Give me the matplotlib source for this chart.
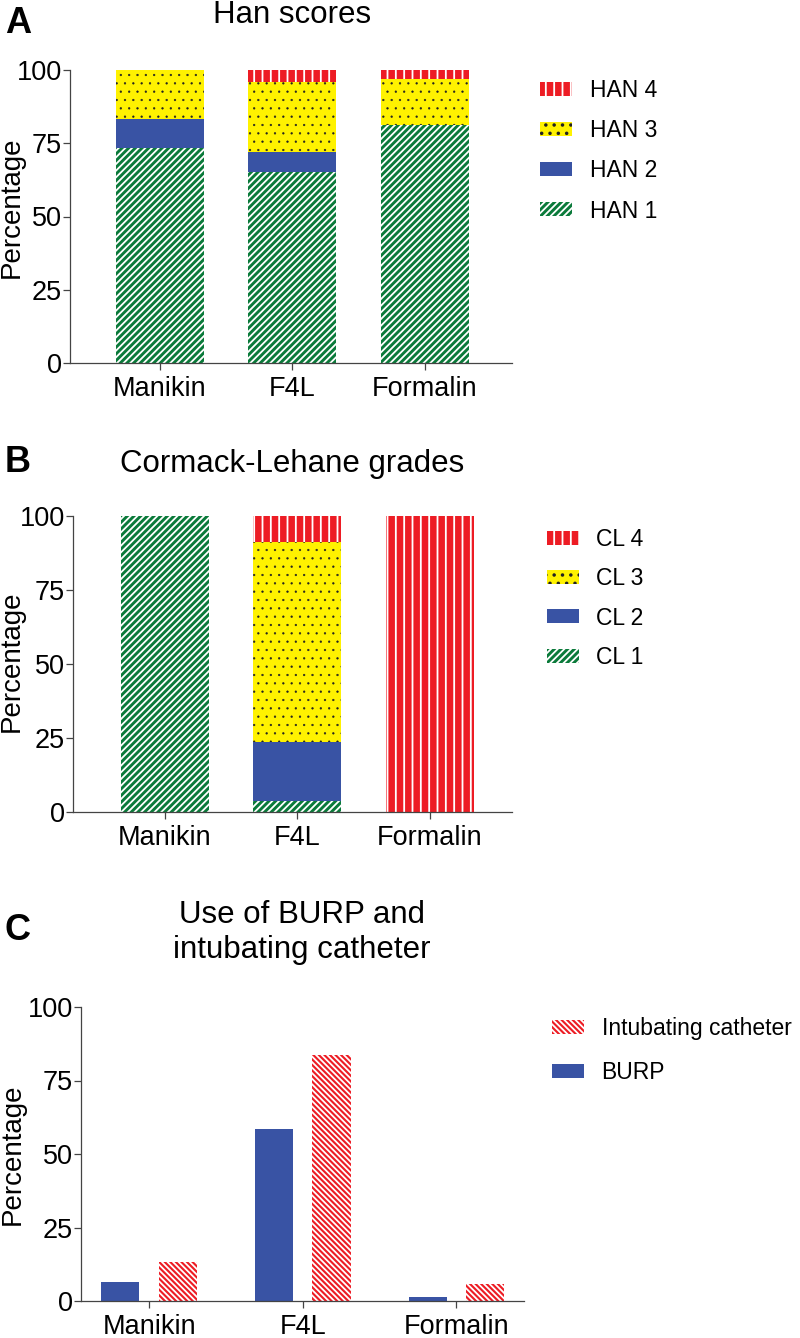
import matplotlib
matplotlib.use("Agg")
import matplotlib.pyplot as plt
import numpy as np

# data
cats = ["Manikin", "F4L", "Formalin"]

han1 = [73.3, 65.3, 81.2]
han2 = [10.0, 6.6, 0.0]
han3 = [16.7, 24.1, 15.6]
han4 = [0.0, 4.0, 3.2]

cl1 = [100.0, 3.6, 0.0]
cl2 = [0.0, 20.1, 0.0]
cl3 = [0.0, 67.4, 0.0]
cl4 = [0.0, 8.9, 100.0]

burp = [6.6, 58.5, 1.4]
catheter = [13.2, 83.8, 5.8]

green = "#0a7a3a"
blue = "#3953a4"
yellow = "#fff200"
red = "#ed1c24"

plt.rcParams["font.family"] = ["Liberation Sans", "DejaVu Sans"]
plt.rcParams["hatch.linewidth"] = 1.3

W, H = 800, 1338
fig = plt.figure(figsize=(W / 100, H / 100), dpi=100)

TICK_FS = 19.5
LEG_FS = 16.5


def px_axes(left, top, right, bottom):
    return fig.add_axes([left / W, 1 - bottom / H, (right - left) / W, (bottom - top) / H])


def fig_text(x, y, s, **kw):
    fig.text(x / W, 1 - y / H, s, **kw)


def style(ax, xlim):
    for s in ["top", "right"]:
        ax.spines[s].set_visible(False)
    for s in ["left", "bottom"]:
        ax.spines[s].set_color("#444444")
        ax.spines[s].set_linewidth(0.9)
    ax.set_ylim(0, 100)
    ax.set_yticks([0, 25, 50, 75, 100])
    ax.set_xlim(*xlim)
    ax.set_xticks(np.arange(len(cats)))
    ax.set_xticklabels(cats)
    ax.tick_params(axis="y", length=5, width=0.9, color="#444444", pad=1, labelsize=TICK_FS)
    ax.tick_params(axis="x", length=5, width=0.9, color="#444444", pad=4, labelsize=TICK_FS)


def hatch_lw(container, lw):
    for p in container:
        if hasattr(p, "set_hatch_linewidth"):
            p.set_hatch_linewidth(lw)


stack_styles = [
    dict(color=green, edgecolor="white", hatch="/////"),
    dict(color=blue, edgecolor=blue),
    dict(color=yellow, edgecolor="#222222", hatch=".."),
    dict(color=red, edgecolor="white", hatch="||"),
]


def stacked(ax, series, labels):
    x = np.arange(len(cats))
    bottom = np.zeros(len(cats))
    handles = []
    for vals, lab, st in zip(series, labels, stack_styles):
        b = ax.bar(x, vals, 0.664, bottom=bottom, linewidth=0, label=lab,
                   clip_on=False, **st)
        if st.get("hatch") == "..":
            hatch_lw(b, 0.4)
        handles.append(b)
        bottom += np.array(vals)
    return handles


def legend(ax, handles, left, top, spacing):
    ax.legend(handles=handles, loc="upper left", bbox_to_anchor=(left / W, 1 - top / H),
              bbox_transform=fig.transFigure, frameon=False, fontsize=LEG_FS,
              handlelength=1.38, handleheight=0.56, labelspacing=spacing,
              handletextpad=0.78, borderpad=0, borderaxespad=0)


# ---- A: Han scores
axA = px_axes(70, 70, 512, 363)
hA = stacked(axA, [han1, han2, han3, han4], ["HAN 1", "HAN 2", "HAN 3", "HAN 4"])
style(axA, (-0.68, 2.66))
axA.set_ylabel("Percentage", fontsize=20)
axA.yaxis.set_label_coords(-0.102, 0.53)
legend(axA, hA[::-1], 540, 79, 0.75)
fig_text(5, 33, "A", fontsize=26, fontweight="bold", va="baseline")
fig_text(292, 23, "Han scores", fontsize=22.5, ha="center", va="baseline")

# ---- B: Cormack-Lehane grades
axB = px_axes(73, 516, 512, 812)
hB = stacked(axB, [cl1, cl2, cl3, cl4], ["CL 1", "CL 2", "CL 3", "CL 4"])
style(axB, (-0.694, 2.62))
axB.set_ylabel("Percentage", fontsize=20)
axB.yaxis.set_label_coords(-0.109, 0.51)
legend(axB, hB[::-1], 547, 528, 0.71)
fig_text(5, 472, "B", fontsize=26, fontweight="bold", va="baseline")
fig_text(292, 472, "Cormack-Lehane grades", fontsize=22.5, ha="center", va="baseline")

# ---- C: BURP and intubating catheter
axC = px_axes(81, 1007, 524, 1301)
x = np.arange(len(cats))
bB = axC.bar(x - 0.187, burp, 0.248, color=blue, edgecolor=blue, linewidth=0, label="BURP")
bC = axC.bar(x + 0.187, catheter, 0.248, color=red, edgecolor="white", hatch="\\\\\\\\\\\\",
             linewidth=0, label="Intubating catheter")
style(axC, (-0.443, 2.44))
axC.set_ylabel("Percentage", fontsize=20)
axC.yaxis.set_label_coords(-0.125, 0.5)
legend(axC, [bC, bB], 552, 1017, 0.9)
fig_text(5, 940, "C", fontsize=26, fontweight="bold", va="baseline")
fig_text(302, 900, "Use of BURP and\nintubating catheter", fontsize=22.5, ha="center",
         va="top", linespacing=1.2)

fig.savefig("out.png", dpi=100)
